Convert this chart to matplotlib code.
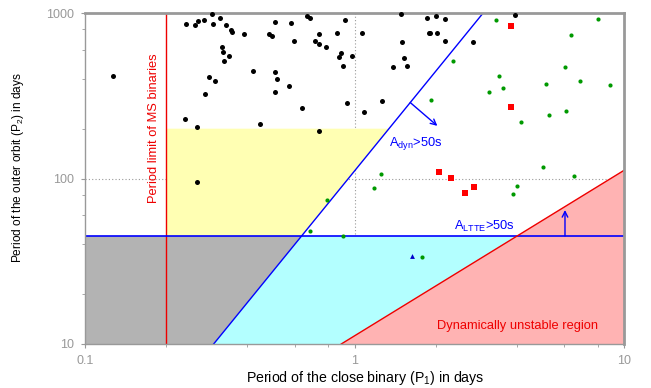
import numpy as np
import matplotlib
matplotlib.use("Agg")
import matplotlib.pyplot as plt
from matplotlib.ticker import FixedLocator, FixedFormatter, NullFormatter

plt.rcParams['font.family'] = ['Liberation Sans', 'DejaVu Sans']

# ---------------- data ----------------
black_p1 = [0.127, 0.238, 0.256, 0.262, 0.276, 0.297, 0.299, 0.317, 0.334, 0.349,
            0.351, 0.388, 0.321, 0.324, 0.341, 0.328, 0.288, 0.304, 0.279, 0.236,
            0.260, 0.446, 0.421, 0.508, 0.517, 0.507, 0.570, 0.482, 0.493, 0.507,
            0.581, 0.596, 0.665, 0.684, 0.639, 0.740, 0.712, 0.737, 0.784, 0.738,
            0.863, 0.922, 0.893, 0.874, 0.909, 0.981, 0.938, 1.07, 1.085, 0.260,
            1.49, 1.265, 1.50, 1.52, 1.39, 1.57, 1.86, 2.01, 2.17, 1.885,
            1.905, 2.02, 2.17, 2.76, 3.94]
black_p2 = [418, 858, 847, 895, 907, 986, 858, 929, 843, 786,
            770, 750, 626, 581, 552, 515, 412, 390, 325, 228,
            205, 213, 446, 442, 401, 335, 364, 743, 729, 879,
            874, 680, 959, 933, 268, 750, 677, 650, 620, 194,
            757, 907, 573, 544, 478, 550, 286, 757, 253, 95,
            986, 294, 665, 532, 472, 478, 937, 955, 924, 757,
            757, 757, 677, 671, 977]

green_p1 = [3.34, 7.99, 6.34, 2.32, 6.04, 3.44, 6.88, 5.14, 3.57, 3.16,
            8.85, 1.92, 6.11, 5.28, 4.16, 5.01, 6.51, 1.25, 1.18, 4.01,
            3.86, 0.909, 1.78, 0.791, 0.682]
green_p2 = [911, 916, 739, 515, 474, 418, 390, 371, 352, 333,
            366, 299, 256, 243, 220, 117, 104, 107, 88, 90.5,
            80.6, 45.1, 33.7, 74.1, 48.0]

red_p1 = [3.80, 3.80, 2.05, 2.28, 2.78, 2.57]
red_p2 = [838, 272, 110, 101, 89, 82]

tri_p1 = [1.64]
tri_p2 = [34]

# limits / criteria
p1_ms_limit = 0.2          # period limit of MS binaries
p2_ltte = 45.0             # A_LTTE > 50 s
dyn_coeff = 111.0          # A_dyn > 50 s : P2 = coeff * P1^2
unstable_coeff = 11.2      # dynamical stability: P2 = coeff * P1
yellow_top = 200.0

xlim = (0.1, 10)
ylim = (10, 1000)
xticks = [0.1, 1, 10]
xticklabels = ['0.1', '1', '10']
yticks = [10, 100, 1000]
yticklabels = ['10', '100', '1000']

# ---------------- figure ----------------
fig = plt.figure(figsize=(6.51, 3.88), dpi=100)
ax = fig.add_axes([85/651, 44/388, 539/651, 331/388])
ax.set_xscale('log')
ax.set_yscale('log')
ax.set_xlim(*xlim)
ax.set_ylim(*ylim)

def dyn_x(p2):
    return np.sqrt(p2 / dyn_coeff)

def unst_x(p2):
    return p2 / unstable_coeff

x_dyn_bot = dyn_x(ylim[0])
x_dyn_ltte = dyn_x(p2_ltte)
x_dyn_top = dyn_x(yellow_top)
x_un_bot = unst_x(ylim[0])
x_un_ltte = unst_x(p2_ltte)
y_un_right = unstable_coeff * xlim[1]

# fills
ax.fill([xlim[0], x_dyn_bot, x_dyn_ltte, xlim[0]],
        [ylim[0], ylim[0], p2_ltte, p2_ltte], color='#b3b3b3', lw=0, zorder=1)
ax.fill([x_dyn_bot, x_un_bot, x_un_ltte, x_dyn_ltte],
        [ylim[0], ylim[0], p2_ltte, p2_ltte], color='#b3ffff', lw=0, zorder=1)
ax.fill([x_un_bot, xlim[1], xlim[1]],
        [ylim[0], ylim[0], y_un_right], color='#ffb3b3', lw=0, zorder=1)
ax.fill([p1_ms_limit, x_dyn_ltte, x_dyn_top, p1_ms_limit],
        [p2_ltte, p2_ltte, yellow_top, yellow_top], color='#ffffb3', lw=0, zorder=1)

# grid (major only)
ax.axvline(1, color='#999999', ls=(0, (1, 2)), lw=0.8, zorder=0.5)
ax.axhline(100, color='#999999', ls=(0, (1, 2)), lw=0.8, zorder=0.5)

# lines
ax.axvline(p1_ms_limit, color='#ee0000', lw=1.0, zorder=2)
ax.axhline(p2_ltte, color='#0000ff', lw=1.2, zorder=2)
xd = np.array([x_dyn_bot, dyn_x(ylim[1])])
ax.plot(xd, dyn_coeff * xd**2, color='#0000ff', lw=1.0, zorder=2)
xu = np.array([x_un_bot, xlim[1]])
ax.plot(xu, unstable_coeff * xu, color='#ee0000', lw=1.0, zorder=2)

# points
ax.plot(black_p1, black_p2, 'o', color='black', ms=3.6, mew=0, zorder=3, clip_on=False)
ax.plot(green_p1, green_p2, 'o', color='#009900', ms=3.0, mew=0, zorder=3)
ax.plot(red_p1, red_p2, 's', color='#ff0000', ms=5.0, mew=0, zorder=3)
ax.plot(tri_p1, tri_p2, '^', color='#0000cc', ms=3.5, mew=0, zorder=3)

# annotations
fs = 9.3
ax.text(0.19, 202, 'Period limit of MS binaries', color='#ee0000', fontsize=fs,
        rotation=90, ha='right', va='center', zorder=4)
ax.text(1.34, 162, r'A$_{\mathregular{dyn}}$>50s', color='#0000ff', fontsize=fs,
        ha='left', va='center', zorder=4)
arr_x0 = 1.61
ax.annotate('', xy=(2.03, 208), xytext=(arr_x0, dyn_coeff * arr_x0**2),
            arrowprops=dict(arrowstyle='->', color='#0000ff', lw=1.0,
                            shrinkA=0, shrinkB=0), zorder=4)
ax.text(2.33, 51.6, r'A$_{\mathregular{LTTE}}$>50s', color='#0000ff', fontsize=fs,
        ha='left', va='center', zorder=4)
ax.annotate('', xy=(6.04, 64.5), xytext=(6.04, p2_ltte),
            arrowprops=dict(arrowstyle='->', color='#0000ff', lw=1.0,
                            shrinkA=0, shrinkB=0), zorder=4)
ax.text(4.03, 12.8, 'Dynamically unstable region', color='#ee0000', fontsize=fs,
        ha='center', va='center', zorder=4)

# ticks
ax.xaxis.set_major_locator(FixedLocator(xticks))
ax.xaxis.set_major_formatter(FixedFormatter(xticklabels))
ax.yaxis.set_major_locator(FixedLocator(yticks))
ax.yaxis.set_major_formatter(FixedFormatter(yticklabels))
minor_x = [m * d for d in [0.1, 1] for m in [2, 4, 6, 8]]
minor_y = [m * d for d in [10, 100] for m in [2, 4, 6, 8]]
ax.xaxis.set_minor_locator(FixedLocator(minor_x))
ax.yaxis.set_minor_locator(FixedLocator(minor_y))
ax.xaxis.set_minor_formatter(NullFormatter())
ax.yaxis.set_minor_formatter(NullFormatter())
ax.tick_params(which='both', colors='#999999', labelcolor='#999999', labelsize=9,
               direction='out', pad=5)
ax.tick_params(which='major', length=3)
ax.tick_params(which='minor', length=2.5)

for side in ['left', 'bottom']:
    ax.spines[side].set_color('#999999')
    ax.spines[side].set_linewidth(1.0)
for side in ['top', 'right']:
    ax.spines[side].set_color('#999999')
    ax.spines[side].set_linewidth(2.0)

ax.set_xlabel(r'Period of the close binary (P$_{\mathregular{1}}$) in days', fontsize=10.2)
ax.set_ylabel(r'Period of the outer orbit (P$_{\mathregular{2}}$) in days', fontsize=8.6)
ax.xaxis.set_label_coords((364.9 - 85) / 539, (344 - 369) / 331)
ax.yaxis.set_label_coords((26 - 85) / 539, (344 - 168) / 331)

fig.savefig('out.png', dpi=100)
